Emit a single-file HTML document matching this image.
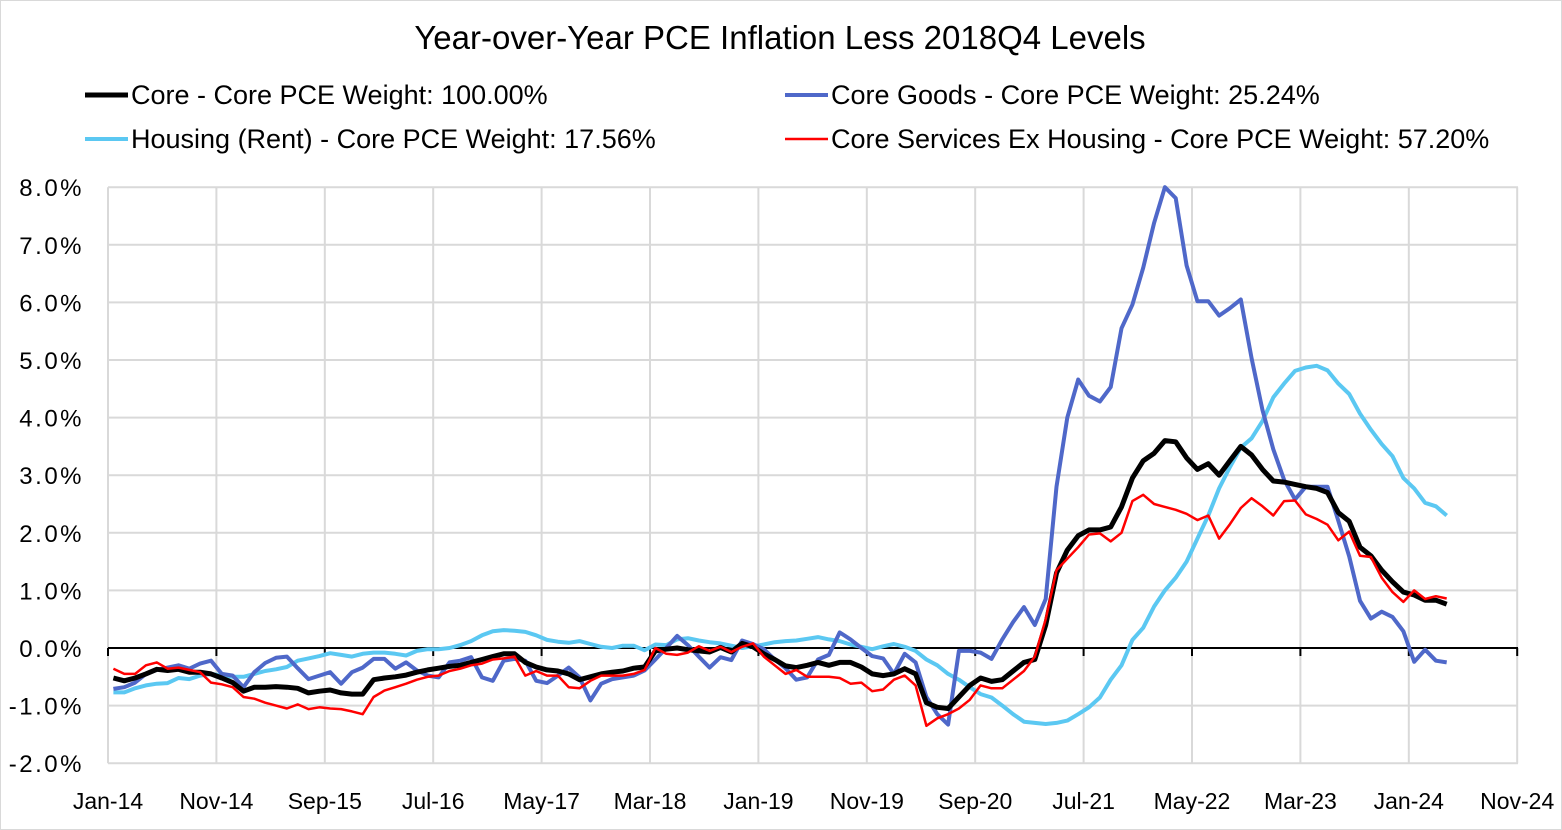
<!DOCTYPE html>
<html><head><meta charset="utf-8"><style>
body{margin:0;background:#fff;}
svg{display:block;font-family:"Liberation Sans",sans-serif;}
</style></head><body>
<svg id="chart" width="1562" height="830" viewBox="0 0 1562 830">
<rect x="0.5" y="0.5" width="1561" height="829" fill="#fff" stroke="#d9d9d9"/>
<text x="780" y="49" text-anchor="middle" font-size="33" fill="#000">Year-over-Year PCE Inflation Less 2018Q4 Levels</text>
<g>
<line x1="85" y1="95" x2="128" y2="95" stroke="#000" stroke-width="5"/>
<text x="131" y="104" font-size="27">Core - Core PCE Weight: 100.00%</text>
<line x1="785" y1="95" x2="828" y2="95" stroke="#4F68C9" stroke-width="4"/>
<text x="831" y="104" font-size="27">Core Goods - Core PCE Weight: 25.24%</text>
<line x1="85" y1="139" x2="128" y2="139" stroke="#5BC8F2" stroke-width="4"/>
<text x="131" y="148" font-size="27">Housing (Rent) - Core PCE Weight: 17.56%</text>
<line x1="785" y1="139" x2="828" y2="139" stroke="#FF0000" stroke-width="2.5"/>
<text x="831" y="148" font-size="27">Core Services Ex Housing - Core PCE Weight: 57.20%</text>
</g>
<g id="grid"></g><g id="axes"></g><g id="series"></g>
</svg>
<script>
const yTicks=[8,7,6,5,4,3,2,1,0,-1,-2];
const xLabels=["Jan-14","Nov-14","Sep-15","Jul-16","May-17","Mar-18","Jan-19","Nov-19","Sep-20","Jul-21","May-22","Mar-23","Jan-24","Nov-24"];
const coreVals=[-0.52,-0.57,-0.52,-0.45,-0.37,-0.39,-0.37,-0.42,-0.42,-0.45,-0.52,-0.6,-0.75,-0.68,-0.68,-0.67,-0.68,-0.7,-0.78,-0.75,-0.73,-0.78,-0.8,-0.8,-0.55,-0.52,-0.5,-0.47,-0.42,-0.38,-0.35,-0.32,-0.3,-0.25,-0.2,-0.15,-0.1,-0.1,-0.25,-0.33,-0.38,-0.4,-0.45,-0.55,-0.5,-0.45,-0.42,-0.4,-0.35,-0.33,-0.05,-0.02,0,-0.03,-0.05,-0.07,0.01,-0.07,0.08,0.02,-0.1,-0.2,-0.31,-0.34,-0.3,-0.25,-0.3,-0.25,-0.25,-0.33,-0.45,-0.48,-0.45,-0.36,-0.45,-0.95,-1.03,-1.05,-0.85,-0.65,-0.52,-0.58,-0.55,-0.4,-0.25,-0.2,0.4,1.3,1.7,1.95,2.05,2.05,2.1,2.45,2.95,3.25,3.38,3.6,3.58,3.3,3.1,3.2,3.0,3.25,3.5,3.35,3.1,2.9,2.88,2.84,2.8,2.77,2.7,2.35,2.2,1.75,1.6,1.35,1.15,0.97,0.92,0.83,0.83,0.76];
const goodsVals=[-0.71,-0.68,-0.6,-0.45,-0.38,-0.34,-0.3,-0.36,-0.27,-0.22,-0.45,-0.48,-0.68,-0.42,-0.26,-0.17,-0.15,-0.35,-0.54,-0.48,-0.42,-0.62,-0.42,-0.34,-0.19,-0.19,-0.36,-0.25,-0.39,-0.48,-0.51,-0.25,-0.22,-0.16,-0.51,-0.57,-0.22,-0.19,-0.22,-0.57,-0.61,-0.48,-0.34,-0.51,-0.91,-0.62,-0.54,-0.51,-0.48,-0.39,-0.2,0.0,0.21,0.05,-0.15,-0.34,-0.16,-0.21,0.13,0.07,-0.02,-0.2,-0.35,-0.55,-0.51,-0.2,-0.12,0.27,0.15,0.0,-0.14,-0.18,-0.45,-0.1,-0.25,-0.85,-1.15,-1.33,-0.05,-0.05,-0.08,-0.19,0.15,0.45,0.71,0.4,0.85,2.8,4.0,4.66,4.38,4.28,4.53,5.55,5.96,6.6,7.38,8.0,7.81,6.64,6.02,6.02,5.77,5.9,6.05,5.03,4.13,3.45,2.92,2.58,2.8,2.8,2.8,2.21,1.59,0.82,0.51,0.63,0.54,0.29,-0.24,-0.03,-0.22,-0.25];
const housingVals=[-0.77,-0.77,-0.7,-0.65,-0.62,-0.61,-0.52,-0.54,-0.48,-0.45,-0.48,-0.5,-0.5,-0.45,-0.4,-0.37,-0.33,-0.22,-0.18,-0.14,-0.09,-0.12,-0.15,-0.1,-0.08,-0.08,-0.1,-0.13,-0.05,-0.02,-0.02,0.0,0.05,0.12,0.22,0.29,0.31,0.3,0.28,0.22,0.14,0.11,0.09,0.12,0.07,0.02,0.0,0.04,0.04,-0.04,0.06,0.05,0.15,0.17,0.13,0.1,0.08,0.04,0.0,0.03,0.06,0.1,0.12,0.13,0.16,0.19,0.15,0.12,0.06,0.02,-0.02,0.03,0.07,0.02,-0.05,-0.2,-0.3,-0.45,-0.55,-0.68,-0.8,-0.86,-1.0,-1.15,-1.28,-1.3,-1.32,-1.3,-1.26,-1.15,-1.03,-0.86,-0.55,-0.3,0.14,0.35,0.72,1.0,1.22,1.5,1.9,2.3,2.77,3.14,3.48,3.64,3.94,4.35,4.59,4.81,4.87,4.9,4.82,4.59,4.41,4.07,3.79,3.54,3.33,2.95,2.77,2.52,2.46,2.3];
const servicesVals=[-0.36,-0.45,-0.45,-0.3,-0.25,-0.36,-0.34,-0.38,-0.42,-0.6,-0.63,-0.68,-0.85,-0.88,-0.95,-1.0,-1.05,-0.98,-1.06,-1.03,-1.05,-1.06,-1.1,-1.15,-0.85,-0.74,-0.68,-0.62,-0.55,-0.5,-0.48,-0.4,-0.36,-0.3,-0.27,-0.2,-0.18,-0.15,-0.48,-0.4,-0.48,-0.48,-0.68,-0.7,-0.57,-0.48,-0.48,-0.48,-0.45,-0.38,0,-0.1,-0.12,-0.08,0.03,-0.05,0.02,-0.07,0.02,0.08,-0.15,-0.3,-0.45,-0.38,-0.5,-0.5,-0.5,-0.52,-0.62,-0.6,-0.75,-0.72,-0.55,-0.48,-0.65,-1.35,-1.22,-1.15,-1.05,-0.9,-0.65,-0.7,-0.7,-0.55,-0.4,-0.15,0.5,1.35,1.55,1.75,1.97,1.99,1.85,2.0,2.55,2.66,2.5,2.45,2.4,2.33,2.22,2.3,1.9,2.15,2.43,2.6,2.46,2.3,2.55,2.56,2.32,2.24,2.14,1.87,2.02,1.6,1.58,1.22,0.97,0.8,1.0,0.85,0.9,0.86];

const NS="http://www.w3.org/2000/svg";
const X0=108, MW=10.84, Y0=648, PY=57.6;
function xM(i){return X0+i*MW;}
function xP(i){return X0+(i+0.5)*MW;}
function yV(v){return Y0-v*PY;}
function mk(tag,attrs,parent){const e=document.createElementNS(NS,tag);for(const k in attrs)e.setAttribute(k,attrs[k]);parent.appendChild(e);return e;}
const grid=document.getElementById('grid'), axes=document.getElementById('axes'), ser=document.getElementById('series');
yTicks.forEach(t=>{
  const l=mk('line',{x1:X0,x2:1518,y1:yV(t),y2:yV(t),stroke:'#d9d9d9','stroke-width':2},grid);
  
  
  const tx=mk('text',{x:84,y:yV(t)+9,'text-anchor':'end','font-size':24,'letter-spacing':2.5},axes);
  tx.textContent=t.toFixed(1)+'%';
  
  
});
xLabels.forEach((lab,k)=>{
  const x=xM(k*10);
  const l=mk('line',{x1:x,x2:x,y1:yV(8),y2:yV(-2),stroke:'#d9d9d9','stroke-width':2},grid);
  
  
  const tk=mk('line',{x1:x,x2:x,y1:Y0,y2:Y0+8,stroke:'#000','stroke-width':2},axes);
  
  
  const tx=mk('text',{x:x,y:809,'text-anchor':'middle','font-size':23},axes);
  tx.textContent=lab;
  
  
});
const ax=mk('line',{x1:X0,x2:1518,y1:Y0,y2:Y0,stroke:'#000','stroke-width':2},axes);


function drawLine(vals,color,w,name){
  const p=mk('polyline',{points:vals.map((v,i)=>xP(i).toFixed(1)+','+yV(v).toFixed(1)).join(' '),fill:'none',stroke:color,'stroke-width':w,'stroke-linejoin':'round'},ser);
  
  
}
drawLine(housingVals,'#5BC8F2',4,'housing-rent-line');
drawLine(goodsVals,'#4F68C9',4,'core-goods-line');
drawLine(coreVals,'#000',5,'core-line');
drawLine(servicesVals,'#FF0000',2.5,'core-services-ex-housing-line');
</script>
</body></html>
